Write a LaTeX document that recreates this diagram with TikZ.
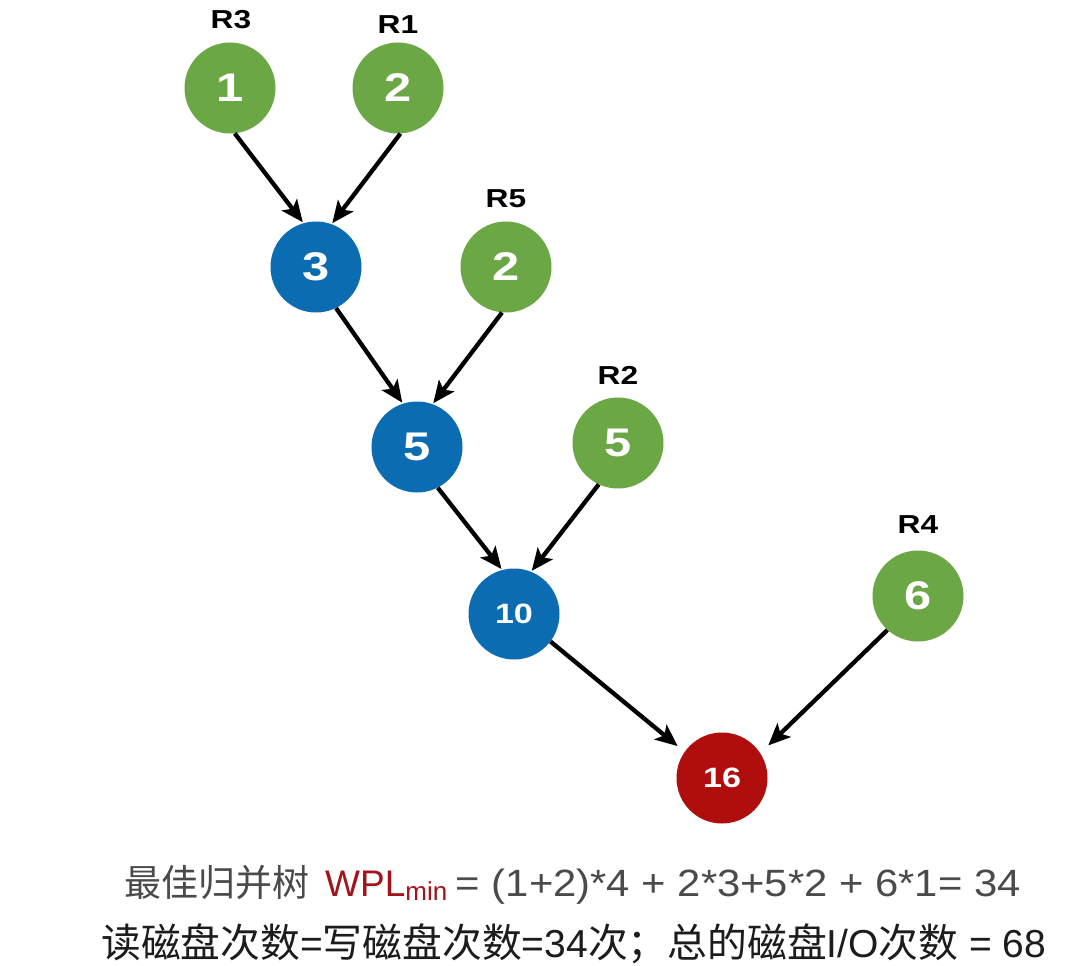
\documentclass[tikz,border=0pt]{standalone}
\usepackage{fontspec}
\setmainfont{Liberation Sans}
\newfontfamily\cjk{Noto Sans CJK SC}
\newfontfamily\bwide[FakeStretch=1.22]{Liberation Sans Bold}
\newfontfamily\lwide[FakeStretch=1.1]{Liberation Sans}
\newfontfamily\lplain{Liberation Sans}
\usetikzlibrary{arrows.meta}
\definecolor{ngreen}{HTML}{6BA745}
\definecolor{nblue}{HTML}{0B6CB1}
\definecolor{nred}{HTML}{B00D0D}
\definecolor{wplred}{HTML}{A0141A}
\definecolor{txtA}{HTML}{4A4A4A}
\definecolor{txtB}{HTML}{1C1C1C}
\tikzset{
  nd/.style={circle,minimum size=91pt,inner sep=0pt,text=white,font=\bwide\fontsize{40}{40}\selectfont},
  leaf/.style={nd,fill=ngreen},
  inner/.style={nd,fill=nblue},
  rootn/.style={nd,fill=nred,font=\bwide\fontsize{28}{28}\selectfont},
  small/.style={font=\bwide\fontsize{28}{28}\selectfont},
  rlab/.style={font=\bwide\fontsize{26}{26}\selectfont,text=black,inner sep=0pt},
  arr/.style={line width=4.3pt,-{Stealth[length=22pt,width=19pt,inset=5pt]},shorten >=1pt},
}
\begin{document}
\begin{tikzpicture}[x=1pt,y=-1pt]
\useasboundingbox[fill=white] (0,0) rectangle (1088,966);
\node[leaf] (a) at (230,88) {1};
\node[leaf] (b) at (398,88) {2};
\node[inner] (c) at (316,267) {3};
\node[leaf] (d) at (506,267) {2};
\node[inner] (e) at (417,447) {5};
\node[leaf] (f) at (618,443) {5};
\node[inner,small] (g) at (514,614) {10};
\node[leaf] (h) at (918,596) {6};
\node[rootn] (r) at (722,778) {16};
\node[rlab] (la) at (231,20) {R3};
\node[rlab] (lb) at (398,25) {R1};
\node[rlab] (ld) at (506,199) {R5};
\node[rlab] (lf) at (618,375) {R2};
\node[rlab] (lh) at (918,525) {R4};
\draw[arr] (a.-84) -- (c.106);
\draw[arr] (b.-87) -- (c.70);
\draw[arr] (c.-64) -- (e.108);
\draw[arr] (d.-95) -- (e.70);
\draw[arr] (e.-63) -- (g.105);
\draw[arr] (f.-115) -- (g.68);
\draw[arr,shorten >=9pt] (g.-37) -- (r.145);
\draw[arr,shorten >=11pt] (h.-132) -- (r.33);
\node[anchor=base west,inner sep=0pt,text=txtA,font=\lwide\fontsize{38}{38}\selectfont] (t1) at (124,896)
  {{\cjk\fontsize{37}{37}\selectfont 最佳归并树}\hspace{16pt}{\lplain\fontsize{37}{37}\selectfont\textcolor{wplred}{WPL\raisebox{-4pt}{\fontsize{26}{26}\selectfont min}}}\hspace{-3pt} = (1+2)*4 + 2*3+5*2 + 6*1= 34};
\node[anchor=base west,inner sep=0pt,text=txtB,font=\fontsize{39}{39}\selectfont] (t2) at (101,957)
  {{\cjk\fontsize{39.8}{39.8}\selectfont 读磁盘次数}={\cjk\fontsize{39.8}{39.8}\selectfont 写磁盘次数}=34{\cjk\fontsize{39.8}{39.8}\selectfont 次；总的磁盘}I/O{\cjk\fontsize{39.8}{39.8}\selectfont 次数} = 68};
\end{tikzpicture}
\end{document}
